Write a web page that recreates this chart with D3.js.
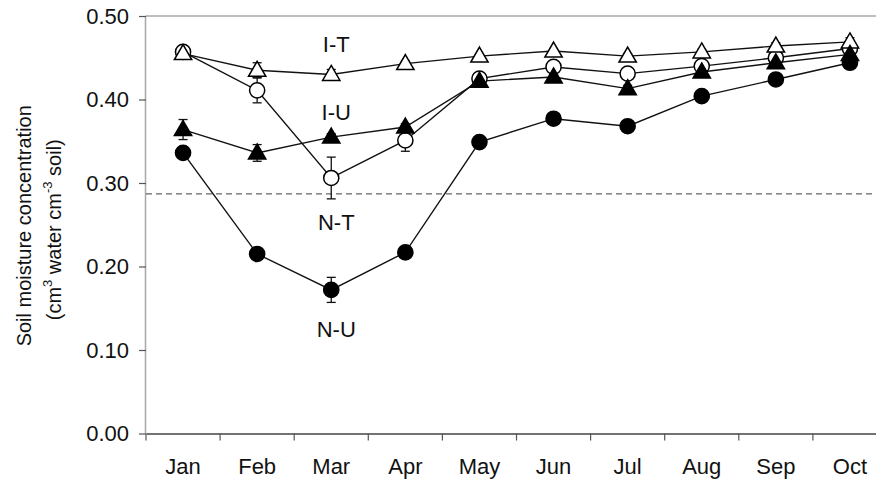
<!DOCTYPE html>
<html>
<head>
<meta charset="utf-8">
<script src="https://cdn.jsdelivr.net/npm/d3@7"></script>
<style>
  html, body { margin: 0; padding: 0; background: #fff; }
  svg { display: block; font-family: "Liberation Sans", Arial, Helvetica, sans-serif; }
</style>
</head>
<body>
<svg id="chart" width="876" height="479"></svg>
<script>
// Monthly soil moisture (cm3 water / cm3 soil) for four treatments
const months = ["Jan", "Feb", "Mar", "Apr", "May", "Jun", "Jul", "Aug", "Sep", "Oct"];
const yTicks = [0, 0.1, 0.2, 0.3, 0.4, 0.5];

const itValues = [0.455, 0.435, 0.430, 0.443, 0.452, 0.458, 0.452, 0.457, 0.464, 0.469];
const itErrors = [0.003, 0.009, 0.006, 0.003, 0.002, 0.003, 0.003, 0.003, 0.004, 0.005];

const iuValues = [0.457, 0.411, 0.306, 0.351, 0.425, 0.439, 0.431, 0.440, 0.450, 0.461];
const iuErrors = [0.003, 0.015, 0.025, 0.013, 0.003, 0.003, 0.003, 0.003, 0.003, 0.003];

const ntValues = [0.364, 0.336, 0.355, 0.367, 0.422, 0.427, 0.413, 0.433, 0.444, 0.454];
const ntErrors = [0.012, 0.010, 0.004, 0.004, 0.003, 0.003, 0.004, 0.003, 0.004, 0.005];

const nuValues = [0.336, 0.215, 0.172, 0.217, 0.349, 0.377, 0.368, 0.404, 0.424, 0.444];
const nuErrors = [0.003, 0.003, 0.015, 0.003, 0.003, 0.003, 0.003, 0.003, 0.003, 0.003];

const thresholdValue = 0.287;

const seriesNames = ["I-T", "I-U", "N-T", "N-U"];
const labelValues = [0.457, 0.375, 0.244, 0.115];

const svg = d3.select("#chart");
const W = 876, H = 479;

const x = d3.scaleBand().domain(months).range([146, 887]).padding(0);
const y = d3.scaleLinear().domain([0, 0.5]).range([433.5, 16]);
const cx = m => x(m) + x.bandwidth() / 2;

// frame: top border and left axis line (light grey)
svg.append("line")
  .attr("x1", 145.5).attr("x2", W).attr("y1", y(0.5)).attr("y2", y(0.5))
  .attr("stroke", "#a8a8a8").attr("stroke-width", 1.5);
svg.append("line")
  .attr("x1", 145.5).attr("x2", 145.5).attr("y1", y(0.5)).attr("y2", y(0))
  .attr("stroke", "#a8a8a8").attr("stroke-width", 1.5);

// y axis ticks and labels
const yAxis = svg.append("g").attr("transform", "translate(146,0)")
  .call(d3.axisLeft(y).tickValues(yTicks).tickFormat(d3.format(".2f")).tickSize(7).tickPadding(10));
yAxis.select(".domain").remove();
yAxis.selectAll(".tick line").attr("stroke", "#555").attr("stroke-width", 1.2);
yAxis.selectAll(".tick text").attr("font-size", 22).attr("fill", "#111")
  .attr("font-family", "Liberation Sans, Arial, sans-serif");

// x axis: labels centred in bands, ticks at band boundaries
const xAxis = svg.append("g").attr("transform", `translate(0,${y(0)})`)
  .call(d3.axisBottom(x).tickSize(0).tickPadding(25));
xAxis.select(".domain").attr("stroke", "#444").attr("stroke-width", 1.5);
xAxis.selectAll(".tick text").attr("font-size", 22).attr("fill", "#111")
  .attr("font-family", "Liberation Sans, Arial, sans-serif");
svg.append("g").selectAll("line").data(months).join("line")
  .attr("x1", d => x(d)).attr("x2", d => x(d))
  .attr("y1", y(0)).attr("y2", y(0) + 7)
  .attr("stroke", "#555").attr("stroke-width", 1.2);

// reference threshold
svg.append("line")
  .attr("x1", 146).attr("x2", W).attr("y1", y(thresholdValue)).attr("y2", y(thresholdValue))
  .attr("stroke", "#666").attr("stroke-width", 1.4).attr("stroke-dasharray", "6,4");

// y axis title
const title = svg.append("text")
  .attr("transform", `translate(31,${y(0.25) + 1}) rotate(-90)`)
  .attr("text-anchor", "middle").attr("font-size", 20).attr("fill", "#111");
title.append("tspan").attr("x", 0).attr("dy", 0).text("Soil moisture concentration");
const t2 = svg.append("text")
  .attr("transform", `translate(61,${y(0.25) + 5}) rotate(-90)`)
  .attr("text-anchor", "middle").attr("font-size", 20).attr("fill", "#111");
t2.append("tspan").text("(cm");
t2.append("tspan").attr("font-size", 13).attr("dy", -9).text("3");
t2.append("tspan").attr("dy", 9).text(" water cm");
t2.append("tspan").attr("font-size", 13).attr("dy", -9).text("-3");
t2.append("tspan").attr("dy", 9).text(" soil)");

const series = [
  { name: "I-U", values: iuValues, errors: iuErrors, shape: "circle", fill: "#fff" },
  { name: "I-T", values: itValues, errors: itErrors, shape: "triangle", fill: "#fff" },
  { name: "N-T", values: ntValues, errors: ntErrors, shape: "triangle", fill: "#000" },
  { name: "N-U", values: nuValues, errors: nuErrors, shape: "circle", fill: "#000" }
];

const line = d3.line().x((d, i) => cx(months[i])).y(d => y(d));

// connecting lines
svg.append("g").selectAll("path").data(series).join("path")
  .attr("d", s => line(s.values))
  .attr("fill", "none").attr("stroke", "#111").attr("stroke-width", 1.4);

// error bars
series.forEach(s => {
  const g = svg.append("g").attr("stroke", "#111").attr("stroke-width", 1.3);
  s.values.forEach((v, i) => {
    const e = s.errors[i];
    const px = cx(months[i]);
    g.append("line").attr("x1", px).attr("x2", px).attr("y1", y(v + e)).attr("y2", y(v - e));
    g.append("line").attr("x1", px - 4.5).attr("x2", px + 4.5).attr("y1", y(v + e)).attr("y2", y(v + e));
    g.append("line").attr("x1", px - 4.5).attr("x2", px + 4.5).attr("y1", y(v - e)).attr("y2", y(v - e));
  });
});

// markers
const circleSym = d3.symbol().type(d3.symbolCircle).size(180);
const triSym = d3.symbol().type(d3.symbolTriangle).size(130);
series.forEach(s => {
  svg.append("g").selectAll("path").data(s.values).join("path")
    .attr("transform", (v, i) => `translate(${cx(months[i])},${y(v) + (s.shape === "triangle" ? 1 : 0)})`)
    .attr("d", s.shape === "circle" ? circleSym() : triSym())
    .attr("fill", s.fill).attr("stroke", "#000").attr("stroke-width", 1.5);
});

// treatment labels
svg.append("g").selectAll("text").data(seriesNames).join("text")
  .attr("x", cx("Mar") + 5).attr("y", (d, i) => y(labelValues[i]))
  .attr("text-anchor", "middle").attr("font-size", 22).attr("fill", "#111")
  .text(d => d);
</script>
</body>
</html>
